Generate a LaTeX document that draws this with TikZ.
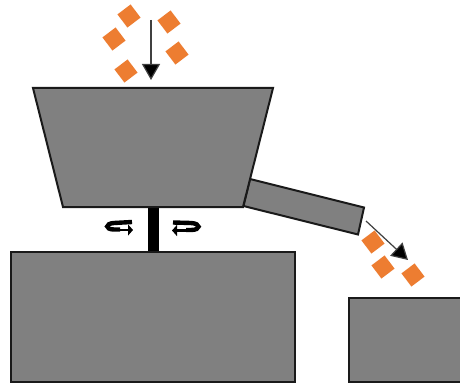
\documentclass[tikz,border=0pt]{standalone}
\usetikzlibrary{arrows.meta}
\definecolor{part}{HTML}{808080}
\definecolor{edge}{HTML}{1A1A1A}
\definecolor{chip}{HTML}{ED7D31}
\tikzset{
  machine/.style={fill=part,draw=edge,line width=2pt,line join=miter},
  chipbox/.style={fill=chip,draw=none,rotate=37,minimum size=16.5pt,inner sep=0pt,outer sep=0pt,shape=rectangle},
  flow/.style={draw=black!75,line width=1.2pt,-{Triangle[length=16pt,width=18pt,fill=black]}},
  spin/.style={line width=4.4pt,line cap=butt},
  spintip/.style={line width=2.6pt,-{Triangle[length=5pt,width=11pt,fill=black]}}
}
\begin{document}
\begin{tikzpicture}[x=1pt,y=-1pt]
\useasboundingbox (0,0) rectangle (460,385);
\fill[white] (0,0) rectangle (460,385);
% chips
\node[chipbox] (c1) at (129,16) {};
\node[chipbox] (c2) at (114,39) {};
\node[chipbox] (c3) at (169,22) {};
\node[chipbox] (c4) at (177,53) {};
\node[chipbox] (c5) at (126,71) {};
\node[chipbox] (c6) at (373,242) {};
\node[chipbox] (c7) at (383,267) {};
\node[chipbox] (c8) at (413,275) {};
% flow arrows
\coordinate (a1) at (151,20); \coordinate (a2) at (151,80);
\coordinate (b1) at (366,221); \coordinate (b2) at (408,260);
\draw[flow] (a1) -- (a2);
\draw[flow] (b1) -- (b2);
% shaft
\fill[black] (147.5,205) rectangle (158.5,252);
% bases
\draw[machine] (11,252) rectangle (295,382);
\draw[machine] (349,298) -- (462,298) -- (462,382) -- (349,382) -- cycle;
% chute and hopper
\draw[machine] (250,179) -- (364,207.5) -- (358,234.5) -- (243.5,206) -- cycle;
\draw[machine] (33,88) -- (273,88) -- (243,207) -- (63,207) -- cycle;
% rotation marks
\draw[spin] (132,222) -- (114,223) .. controls (105,223.5) and (105,229.5) .. (114,229.5) -- (120,229.5);
\draw[spintip] (118,230) -- (133,230);
\draw[spin] (173,222.5) -- (191,223) .. controls (201,223.5) and (201,230) .. (191,230) -- (186,230);
\draw[spintip] (188,230.5) -- (172,230.5);
\end{tikzpicture}
\end{document}
